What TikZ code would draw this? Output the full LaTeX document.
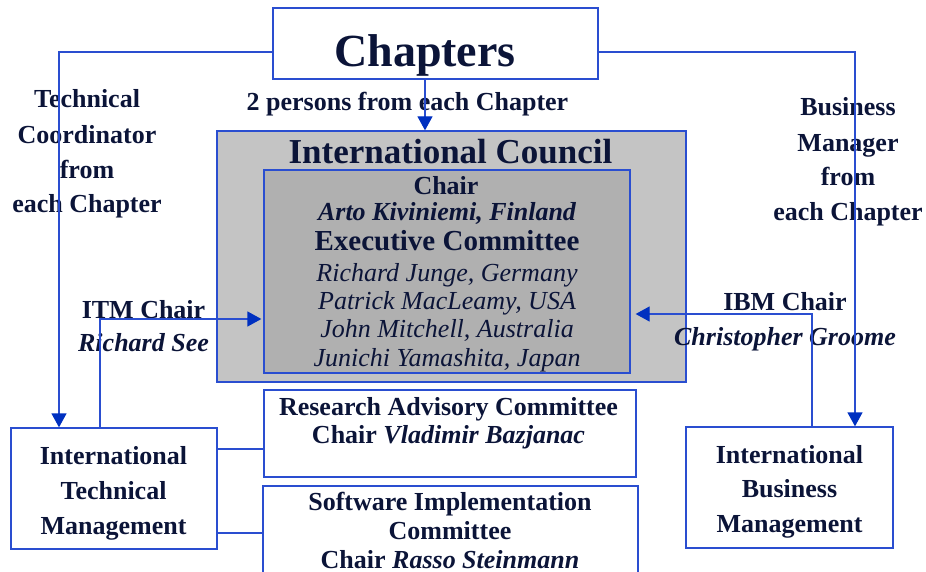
\documentclass[tikz,border=0pt]{standalone}
\usepackage{fontspec}
\setmainfont{Liberation Serif}
\usepackage{xcolor}
\usetikzlibrary{arrows.meta,positioning}

\definecolor{navy}{HTML}{0B1438}
\definecolor{lineblue}{HTML}{2A4ED0}
\definecolor{tipblue}{HTML}{0030C0}
\definecolor{outergray}{HTML}{C4C4C4}
\definecolor{innergray}{HTML}{B0B0B0}
\newcommand{\fsz}[2]{\fontsize{#1}{#2}\selectfont}

\begin{document}
\begin{tikzpicture}[
    x=1pt, y=-1pt,
    box/.style={rectangle, draw=lineblue, line width=1.3pt, inner sep=0pt},
    label/.style={text=navy, font=\bfseries\fsz{26}{35}, align=center, anchor=base, inner sep=0pt},
    link/.style={draw=lineblue, line width=1.3pt},
    arrow/.style={link, -{Triangle[length=14pt,width=15pt,color=tipblue]}}
]
    \useasboundingbox (0,0) rectangle (926,572);

    % boxes
    \node[box, minimum width=325, minimum height=71] (chap) at (435.5,43.5) {};
    \node[box, fill=outergray, minimum width=469, minimum height=251] (council) at (451.5,256.5) {};
    \node[box, fill=innergray, minimum width=366, minimum height=203] (exec) at (447,271.5) {};
    \node[box, minimum width=206, minimum height=121] (itm) at (114,488.5) {};
    \node[box, minimum width=207, minimum height=121] (ibm) at (789.5,487.5) {};
    \node[box, minimum width=372, minimum height=87] (rac) at (450,433.5) {};
    \node[box, minimum width=375, minimum height=108] (sic) at (450.5,540) {};

    % texts (base = last line)
    \node[label, font=\bfseries\fsz{46}{50}] (chaptxt) at (425,67) {Chapters};
    \node[label] (persons) at (407.5,111) {2 persons from each Chapter};
    \node[label] (tcoord) at (87,213) {Technical\\Coordinator\\from\\each Chapter};
    \node[label] (bman) at (848,221) {Business\\Manager\\from\\each Chapter};
    \node[label, font=\bfseries\fsz{35}{40}] (ictitle) at (450.5,164) {International Council};
    \node[label] (chair) at (446,195) {Chair};
    \node[label, font=\bfseries\itshape\fsz{26}{35}] (arto) at (447,220) {Arto Kiviniemi, Finland};
    \node[label, font=\bfseries\fsz{29}{35}] (ectitle) at (447,250) {Executive Committee};
    \node[label, font=\itshape\fsz{26}{28.3}] (members) at (447,366)
        {Richard Junge, Germany\\Patrick MacLeamy, USA\\John Mitchell, Australia\\Junichi Yamashita, Japan};
    \node[label, font=\bfseries\fsz{26}{33}] (itmchair) at (143.5,351) {ITM Chair\\\textit{Richard See}};
    \node[label] (ibmchair) at (785,345) {IBM Chair\\\textit{Christopher Groome}};
    \node[label] (itmtxt) at (113.5,534) {International\\Technical\\Management};
    \node[label, font=\bfseries\fsz{26}{34.5}] (ibmtxt) at (789.5,532) {International\\Business\\Management};
    \node[label, font=\bfseries\fsz{26}{28}] (ractxt) at (448.5,443) {Research Advisory Committee\\Chair \textit{Vladimir Bazjanac}};
    \node[label, font=\bfseries\fsz{26}{29}] (sictxt) at (450,568) {Software Implementation\\Committee\\Chair \textit{Rasso Steinmann}};

    % connectors
    \coordinate (tl) at (59,52);
    \coordinate (tr) at (855,52);
    \coordinate (tm) at (425,0);
    \coordinate (itmup) at (100,319);
    \coordinate (ibmup) at (812,314);
    \coordinate (racy) at (0,449);
    \coordinate (sicy) at (0,533);

    \draw[arrow] (chap.west |- tl) -| (itm.north -| tl);
    \draw[arrow] (chap.east |- tr) -| (ibm.north -| tr);
    \draw[arrow] (chap.south -| tm) -- (council.north -| tm);
    \draw[arrow] (itm.north -| itmup) |- ([xshift=-2pt]exec.west |- itmup);
    \draw[arrow] (ibm.north -| ibmup) |- ([xshift=5pt]exec.east |- ibmup);
    \draw[link] (itm.east |- racy) -- (rac.west |- racy);
    \draw[link] (itm.east |- sicy) -- (sic.west |- sicy);
\end{tikzpicture}
\end{document}
